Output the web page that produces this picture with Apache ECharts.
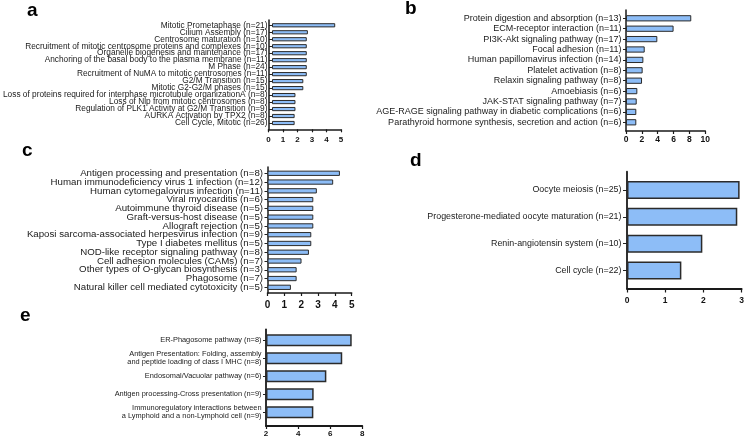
<!DOCTYPE html>
<html><head><meta charset="utf-8">
<script src="https://cdn.jsdelivr.net/npm/echarts@6/dist/echarts.min.js"></script>
<style>html,body{margin:0;padding:0;background:#fff}#c{width:747px;height:438px}</style>
</head><body><div id="c"></div>
<script>
// ---- data ----
const aCategories = ['Mitotic Prometaphase (n=21)','Cilium Assembly (n=17)','Centrosome maturation (n=10)','Recruitment of mitotic centrosome proteins and complexes (n=10)','Organelle biogenesis and maintenance (n=17)','Anchoring of the basal body to the plasma membrane (n=11)','M Phase (n=24)','Recruitment of NuMA to mitotic centrosomes (n=11)','G2/M Transition (n=15)','Mitotic G2-G2/M phases (n=15)','Loss of proteins required for interphase microtubule organizationA (n=8)','Loss of Nlp from mitotic centrosomes (n=8)','Regulation of PLK1 Activity at G2/M Transition (n=9)','AURKA Activation by TPX2 (n=8)','Cell Cycle, Mitotic (n=26)'];
const aValues = [4.58, 2.6, 2.52, 2.52, 2.52, 2.52, 2.52, 2.52, 2.27, 2.27, 1.7, 1.7, 1.7, 1.64, 1.64];
const aTicks = [0, 5, 1];

const bCategories = ['Protein digestion and absorption (n=13)','ECM-receptor interaction (n=11)','PI3K-Akt signaling pathway (n=17)','Focal adhesion (n=11)','Human papillomavirus infection (n=14)','Platelet activation (n=8)','Relaxin signaling pathway (n=8)','Amoebiasis (n=6)','JAK-STAT signaling pathway (n=7)','AGE-RAGE signaling pathway in diabetic complications (n=6)','Parathyroid hormone synthesis, secretion and action (n=6)'];
const bValues = [8.23, 6.0, 3.95, 2.36, 2.19, 2.1, 2.02, 1.43, 1.35, 1.3, 1.3];
const bTicks = [0, 10, 2];

const cCategories = ['Antigen processing and presentation (n=8)','Human immunodeficiency virus 1 infection (n=12)','Human cytomegalovirus infection (n=11)','Viral myocarditis (n=6)','Autoimmune thyroid disease (n=5)','Graft-versus-host disease (n=5)','Allograft rejection (n=5)','Kaposi sarcoma-associated herpesvirus infection (n=9)','Type I diabetes mellitus (n=5)','NOD-like receptor signaling pathway (n=8)','Cell adhesion molecules (CAMs) (n=7)','Other types of O-glycan biosynthesis (n=3)','Phagosome (n=7)','Natural killer cell mediated cytotoxicity (n=5)'];
const cValues = [4.3, 3.9, 2.93, 2.72, 2.72, 2.72, 2.72, 2.6, 2.6, 2.46, 2.02, 1.73, 1.73, 1.39];
const cTicks = [0, 5, 1];

const dCategories = ['Oocyte meiosis (n=25)','Progesterone-mediated oocyte maturation (n=21)','Renin-angiotensin system (n=10)','Cell cycle (n=22)'];
const dValues = [2.9, 2.84, 1.94, 1.4];
const dTicks = [0, 3, 1];

const eCategories = ['ER-Phagosome pathway (n=8)','Antigen Presentation: Folding, assembly\nand peptide loading of class I MHC (n=8)','Endosomal/Vacuolar pathway (n=6)','Antigen processing-Cross presentation (n=9)','Immunoregulatory interactions between\na Lymphoid and a non-Lymphoid cell (n=9)'];
const eValues = [7.34, 6.75, 5.76, 4.97, 4.95];
const eTicks = [2, 8, 2];

const panelLetters = ['a', 'b', 'c', 'd', 'e'];

// ---- layout / style ----
const FONT = '"Liberation Sans", Arial, sans-serif';
const layouts = [
  {cats: aCategories, vals: aValues, ticks: aTicks, left: 268.5, width: 72.5, bandTop: 21.8, bandH: 104.7, axTop: 20, axBot: 129.3, catFont: 8.3, numFont: 8, numMargin: 6, tickLen: 3, barW: '60%', bw: 1, lineW: 1.5, title: [27, 1]},
  {cats: bCategories, vals: bValues, ticks: bTicks, left: 626, width: 79.3, bandTop: 13.1, bandH: 114.4, axTop: 10, axBot: 131, catFont: 9, numFont: 8.5, numMargin: 4.5, tickLen: 3, barW: '60%', bw: 1, lineW: 1.5, title: [405, -1]},
  {cats: cCategories, vals: cValues, ticks: cTicks, left: 267.5, width: 84.2, bandTop: 168.9, bandH: 122.8, axTop: 167, axBot: 293, catFont: 9.7, numFont: 10, numMargin: 7, tickLen: 3, barW: '60%', bw: 1, lineW: 1.5, title: [22, 141]},
  {cats: dCategories, vals: dValues, ticks: dTicks, left: 627, width: 116.5, bandTop: 176.5, bandH: 107.5, axTop: 171.7, axBot: 288.5, catFont: 8.9, numFont: 8.5, numMargin: 8, tickLen: 4, barW: '67%', bw: 1.5, lineW: 1.8, title: [410, 151]},
  {cats: eCategories, vals: eValues, ticks: eTicks, left: 266, width: 96.3, bandTop: 331.2, bandH: 90, axTop: 329.3, axBot: 426, catFont: 7.4, numFont: 8, numMargin: 4, tickLen: 3, barW: '67%', bw: 1.5, lineW: 1.8, title: [20, 306]}
];

const grid = [], xAxis = [], yAxis = [], series = [], title = [];
layouts.forEach((L, i) => {
  const gA = grid.length;
  grid.push({left: L.left, top: L.bandTop, width: L.width, height: L.bandH, containLabel: false});
  grid.push({left: L.left, top: L.axTop, width: L.width, height: L.axBot - L.axTop, containLabel: false});
  // bars grid: hidden value axis, category axis with ticks & labels
  xAxis.push({gridIndex: gA, type: 'value', min: L.ticks[0], max: L.ticks[1], interval: L.ticks[2], startValue: L.ticks[0], show: false});
  yAxis.push({gridIndex: gA, type: 'category', inverse: true, data: L.cats,
    axisLine: {show: false},
    axisTick: {show: true, alignWithLabel: true, interval: 0, length: L.tickLen, lineStyle: {color: '#222', width: 1}},
    axisLabel: {interval: 0, hideOverlap: false, fontFamily: FONT, fontSize: L.catFont, color: '#1a1a1a', margin: L.tickLen + 1.5, lineHeight: L.catFont + 0.5}
  });
  // frame grid: the visible value axis and the vertical axis line
  xAxis.push({gridIndex: gA + 1, type: 'value', min: L.ticks[0], max: L.ticks[1], interval: L.ticks[2],
    axisLine: {show: true, onZero: false, lineStyle: {color: '#1a1a1a', width: L.lineW}},
    axisTick: {show: true, length: L.tickLen, lineStyle: {color: '#1a1a1a', width: 1.2}},
    axisLabel: {fontFamily: FONT, fontSize: L.numFont, fontWeight: 'bold', color: '#111', margin: L.numMargin},
    splitLine: {show: false}
  });
  yAxis.push({gridIndex: gA + 1, type: 'value', min: 0, max: 1,
    axisLine: {show: true, onZero: false, lineStyle: {color: '#1a1a1a', width: L.lineW}},
    axisTick: {show: false}, axisLabel: {show: false}, splitLine: {show: false}
  });
  series.push({type: 'bar', xAxisIndex: gA, yAxisIndex: gA, data: L.vals, barWidth: L.barW, clip: true,
    itemStyle: {color: '#8dbdf7', borderColor: '#2b2b2b', borderWidth: L.bw}, silent: true});
  title.push({text: panelLetters[i], left: L.title[0], top: L.title[1], padding: 0,
    textStyle: {fontFamily: FONT, fontSize: 19, fontWeight: 'bold', color: '#000'}});
});

const chart = echarts.init(document.getElementById('c'), null, {renderer: 'canvas'});
chart.setOption({animation: false, backgroundColor: '#fff', title, grid, xAxis, yAxis, series});
</script></body></html>
